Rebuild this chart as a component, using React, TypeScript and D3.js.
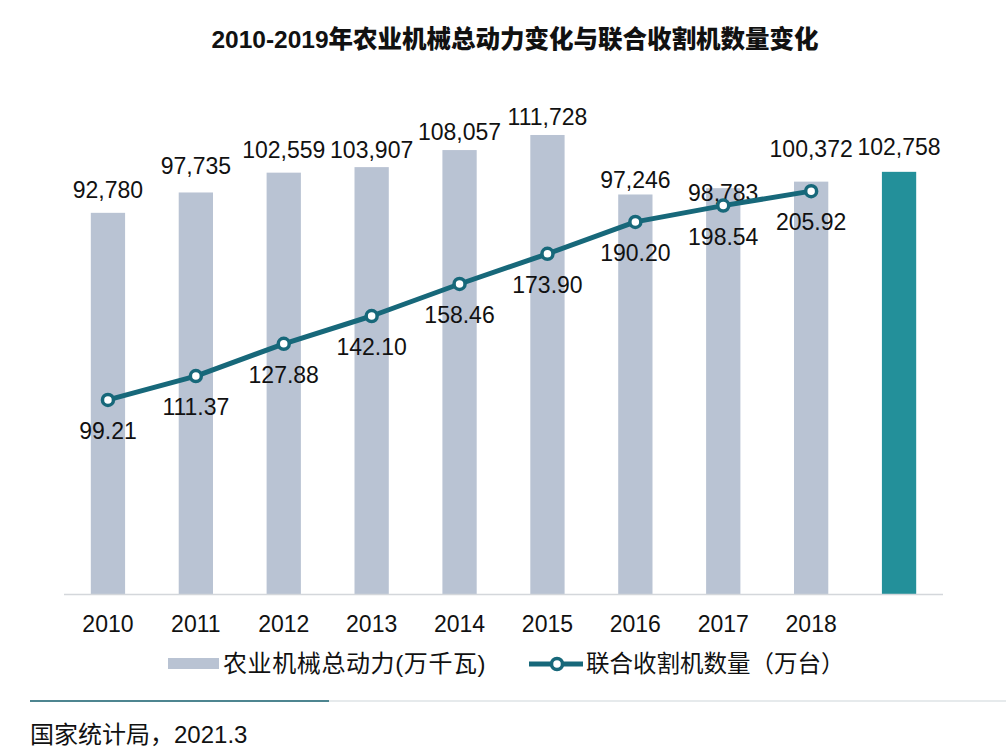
import React from "react";
import * as d3 from "d3";

const years = ["2010", "2011", "2012", "2013", "2014", "2015", "2016", "2017", "2018", "2019"];
const powerValues = [92780, 97735, 102559, 103907, 108057, 111728, 97246, 98783, 100372, 102758];
const harvesterYears = ["2010", "2011", "2012", "2013", "2014", "2015", "2016", "2017", "2018"];
const harvesterValues = [99.21, 111.37, 127.88, 142.1, 158.46, 173.9, 190.2, 198.54, 205.92];
const axisLabels = ["2010", "2011", "2012", "2013", "2014", "2015", "2016", "2017", "2018"];
const title = "2010-2019年农业机械总动力变化与联合收割机数量变化";
const legendBar = "农业机械总动力(万千瓦)";
const legendLine = "联合收割机数量（万台）";
const source = "国家统计局，2021.3";

// label nudges (px, relative to the mark)
const barLabelDy = [-15, -18, -15, -9, -10, -10, -6, 13, -25, -17];

const W = 1006;
const H = 752;
const NUM_FONT = "'Liberation Sans', Arial, sans-serif";
const CJK_FONT = "'Liberation Sans', Arial, 'Noto Sans CJK SC', sans-serif";

export default function App() {
  const x = d3.scaleBand<string>().domain(years).range([64, 943]).paddingInner(0.61).paddingOuter(0.305);
  const yBar = d3.scaleLinear().domain([0, 120000]).range([594, 101]);
  const yLine = d3.scaleLinear().domain([0, 252]).range([594, 101]);
  const cx = (yr: string) => (x(yr) as number) + x.bandwidth() / 2;
  const fmt = d3.format(",");

  const pts = harvesterYears.map((yr, i) => [cx(yr), yLine(harvesterValues[i])] as [number, number]);
  const linePath = d3.line()(pts) as string;

  return (
    <svg width={W} height={H} style={{ position: "absolute", left: 0, top: 0, background: "#fff" }}>
      <rect x={0} y={0} width={W} height={H} fill="#ffffff" />
      <text x={515} y={48} textAnchor="middle" fontFamily={CJK_FONT} fontWeight={900} fontSize={24.5} fill="#111">
        {title}
      </text>

      {years.map((yr, i) => (
        <rect
          key={yr}
          x={x(yr)}
          y={yBar(powerValues[i])}
          width={x.bandwidth()}
          height={yBar(0) - yBar(powerValues[i])}
          fill={i === years.length - 1 ? "#23909a" : "#b9c3d3"}
        />
      ))}

      <line x1={64} x2={943} y1={594.5} y2={594.5} stroke="#d4d7db" strokeWidth={1.5} />

      {years.map((yr, i) => (
        <text
          key={"bl" + yr}
          x={cx(yr)}
          y={yBar(powerValues[i]) + barLabelDy[i]}
          textAnchor="middle"
          fontFamily={NUM_FONT}
          fontSize={23}
          fill="#111"
        >
          {fmt(powerValues[i])}
        </text>
      ))}

      <path d={linePath} fill="none" stroke="#17687a" strokeWidth={5} strokeLinejoin="round" />
      {pts.map((p, i) => (
        <circle key={"c" + i} cx={p[0]} cy={p[1]} r={5.5} fill="#fff" stroke="#17687a" strokeWidth={3.5} />
      ))}
      {harvesterYears.map((yr, i) => (
        <text
          key={"ll" + yr}
          x={cx(yr)}
          y={yLine(harvesterValues[i]) + 39}
          textAnchor="middle"
          fontFamily={NUM_FONT}
          fontSize={23}
          fill="#111"
        >
          {harvesterValues[i].toFixed(2)}
        </text>
      ))}

      {axisLabels.map((yr) => (
        <text key={"ax" + yr} x={cx(yr)} y={632} textAnchor="middle" fontFamily={NUM_FONT} fontSize={23} fill="#111">
          {yr}
        </text>
      ))}

      {/* legend */}
      <rect x={168} y={658} width={51} height={11} fill="#b9c3d3" />
      <text x={223} y={672} fontFamily={CJK_FONT} fontSize={24} letterSpacing={0.6} fill="#111">
        {legendBar}
      </text>
      <line x1={529} x2={583} y1={664} y2={664} stroke="#17687a" strokeWidth={5} />
      <circle cx={557} cy={664} r={5.5} fill="#fff" stroke="#17687a" strokeWidth={3.5} />
      <text x={586} y={672} fontFamily={CJK_FONT} fontSize={23.5} fill="#111">
        {legendLine}
      </text>

      {/* source */}
      <line x1={30} x2={329} y1={701} y2={701} stroke="#4d8590" strokeWidth={2} />
      <line x1={329} x2={1006} y1={701} y2={701} stroke="#cdd5d9" strokeWidth={1} />
      <text x={30} y={743} fontFamily={CJK_FONT} fontSize={24} fill="#111">
        {source}
      </text>
    </svg>
  );
}
